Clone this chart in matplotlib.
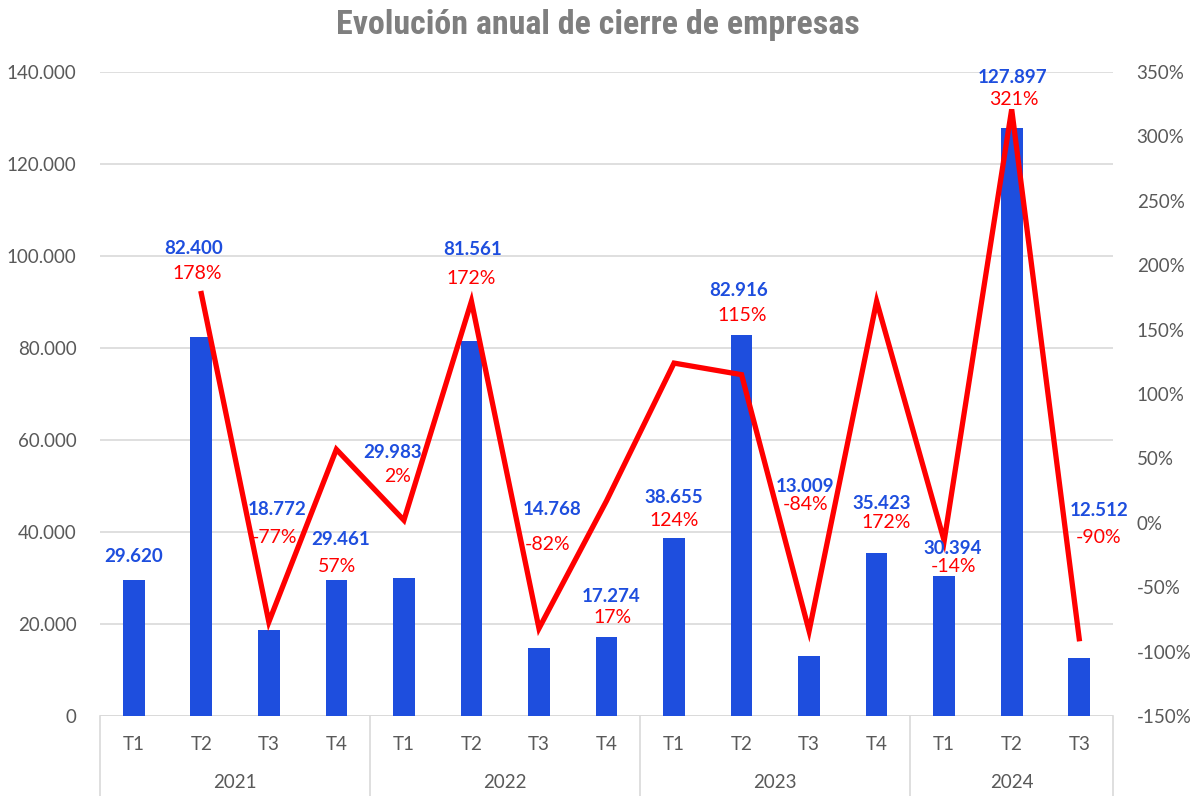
import matplotlib
matplotlib.use("Agg")
import matplotlib.pyplot as plt
import matplotlib.transforms as mtransforms

quarters = ["T1", "T2", "T3", "T4", "T1", "T2", "T3", "T4",
            "T1", "T2", "T3", "T4", "T1", "T2", "T3"]
years = ["2021", "2022", "2023", "2024"]
year_len = [4, 4, 4, 3]
cierres = [29620, 82400, 18772, 29461, 29983, 81561, 14768, 17274,
           38655, 82916, 13009, 35423, 30394, 127897, 12512]
# variacion trimestral (primer trimestre sin dato)
variacion = [None, 178, -77, 57, 2, 172, -82, 17,
             124, 115, -84, 172, -14, 321, -90]

# posicion de las etiquetas, colocadas a mano en el original (escala izq. / px)
num_lab_y = [34600, 101700, 44800, 38300, 57200, 101500, 44800, 25900,
             47600, 92600, 49800, 46300, 36500, 138900, 44600]
num_lab_dx = [0, -8, 8, 4, -11, 1, 13, 5, 0, -3, -4, 5, 9, 1, 20]
pct_lab_y = [None, 96300, 38700, 32600, 52000, 95200, 37200, 21500,
             42600, 87000, 45900, 42000, 32400, 134100, 38700]
pct_lab_dx = [0, -4, 6, 1, -6, 0, 9, 6, 0, 1, -4, 10, 9, 2, 19]

blue = "#1e4ede"
red = "#ff0000"
grey_txt = "#595959"
grid_c = "#d9d9d9"

plt.rcParams['font.family'] = ['Lato', 'DejaVu Sans']

fig = plt.figure(figsize=(11.96, 7.96), dpi=100)
ax = fig.add_axes([100/1196, 80/796, 1013/1196, 644/796])
ax2 = ax.twinx()

x = list(range(len(cierres)))
ax.bar(x, cierres, width=0.32, color=blue, zorder=2)

xl = [i for i, v in enumerate(variacion) if v is not None]
yl = [v for v in variacion if v is not None]
ax2.plot(xl, yl, color=red, linewidth=3.8, solid_joinstyle='miter', zorder=3)

ax.set_xlim(-0.5, len(cierres) - 0.5)
ax.set_ylim(0, 140000)
ax.set_yticks(range(0, 140001, 20000))
ax.set_yticklabels(["0" if v == 0 else f"{v:,}".replace(",", ".") for v in range(0, 140001, 20000)])
ax.yaxis.grid(True, color=grid_c, linewidth=1.2, zorder=0)
ax.set_axisbelow(True)

ax2.set_ylim(-150, 350)
ax2.set_yticks(range(-150, 351, 50))
ax2.set_yticklabels([f"{v}%" for v in range(-150, 351, 50)])

for a in (ax, ax2):
    for s in a.spines.values():
        s.set_visible(False)
    a.tick_params(axis='y', length=0, labelsize=13.5, labelcolor=grey_txt, pad=17)
ax.tick_params(axis='x', bottom=False, labelbottom=False)

ax.axhline(0, color=grid_c, linewidth=1.2, zorder=1)

# eje de categorias en dos niveles
trans = mtransforms.blended_transform_factory(ax.transData, ax.transAxes)
bottom = -80/644
edges = [-0.5]
for n in year_len:
    edges.append(edges[-1] + n)
for e in edges:
    ax.plot([e, e], [0, bottom], transform=trans, color=grid_c,
            linewidth=1.2, clip_on=False)
for i, q in enumerate(quarters):
    ax.text(i, -29/644, q, transform=trans, ha='center', va='center',
            fontsize=13.5, color=grey_txt)
for k, yr in enumerate(years):
    ax.text((edges[k] + edges[k+1]) / 2, -67/644, yr, transform=trans,
            ha='center', va='center', fontsize=13.5, color=grey_txt)

# etiquetas de datos (encima de la linea)
for i, v in enumerate(cierres):
    ax2.annotate(f"{v:,}".replace(",", "."), (i, num_lab_y[i]), xycoords=ax.transData,
                 xytext=(num_lab_dx[i] * 0.72, 0), textcoords='offset points',
                 ha='center', va='center', fontsize=13.5, fontweight='bold',
                 color=blue, zorder=5)
    if variacion[i] is not None:
        ax2.annotate(f"{variacion[i]}%", (i, pct_lab_y[i]), xycoords=ax.transData,
                     xytext=(pct_lab_dx[i] * 0.72, 0), textcoords='offset points',
                     ha='center', va='center', fontsize=14, color=red, zorder=5)

fig.text(0.5, 1 - 25/796, "Evolución anual de cierre de empresas", ha='center', va='center',
         fontsize=24.5, fontweight='bold', color="#7f7f7f",
         family=['Roboto Condensed', 'Liberation Sans Narrow', 'DejaVu Sans'])

fig.savefig("out.png", dpi=100)
